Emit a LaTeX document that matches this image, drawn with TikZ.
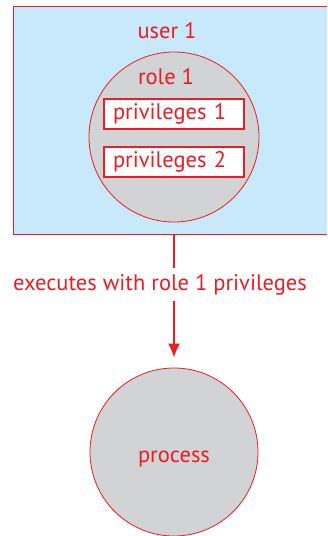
\documentclass[tikz,border=0pt]{standalone}
\usepackage{fontspec}
\setmainfont{PT Sans}
\usetikzlibrary{arrows.meta,positioning}
\definecolor{rolered}{HTML}{ED1C24}
\definecolor{userblue}{HTML}{C7E9F9}
\definecolor{rolegray}{HTML}{D1D3D4}

\begin{document}
\begin{tikzpicture}[
    x=1pt, y=-1pt,
    >={Latex[length=14pt,width=12pt]},
    every node/.style={text=rolered, font=\fontsize{22.5}{26}\selectfont},
    userbox/.style={draw=rolered, fill=userblue, line width=1.2pt, minimum width=317pt, minimum height=228pt, anchor=north west},
    rolecircle/.style={circle, draw=rolered, fill=rolegray, line width=0.8pt, minimum size=170pt},
    privbox/.style={draw=rolered, fill=white, line width=1.2pt, text width=122pt, inner xsep=9pt, minimum height=30pt, align=left},
    plainlabel/.style={inner sep=0pt}
]
\useasboundingbox (0,0) rectangle (327,536);
\clip (0,0) rectangle (327,536);

\node[userbox] (user) at (13,6) {};
\node[plainlabel] (usertxt) at (167,31) {user 1};
\node[rolecircle] (role) at (174,137) {};
\node[plainlabel] (roletxt) at (166,77) {role 1};
\node[privbox] (priv1) at (174,114) {privileges 1};
\node[privbox] (priv2) at (174,162) {privileges 2};

\node[plainlabel] (exec) at (160,285) {executes with role 1 privileges};
\node[rolecircle, minimum size=168pt] (process) at (174,452) {\raisebox{-10pt}[0pt][0pt]{process}};

\draw[rolered, line width=1.8pt] (role |- user.south) -- ([yshift=6pt]role |- exec.north);
\draw[->, rolered, line width=1.8pt, shorten >=10pt] ([yshift=-5pt]process |- exec.south) -- (process.north);
\end{tikzpicture}
\end{document}
